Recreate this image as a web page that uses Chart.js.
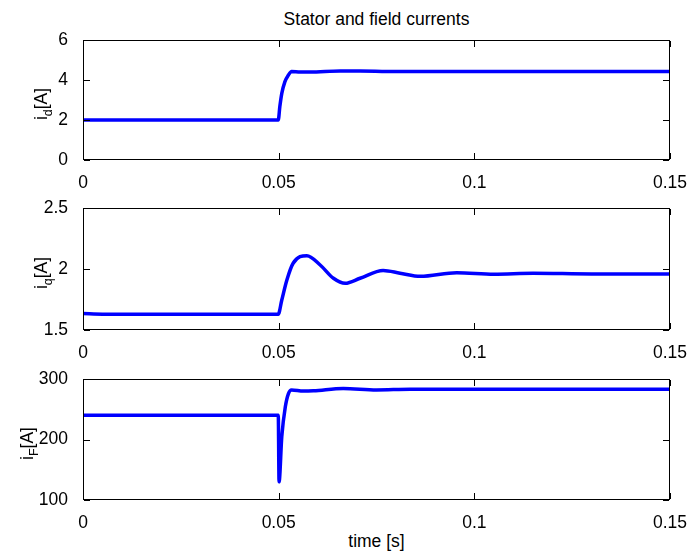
<!DOCTYPE html>
<html>
<head>
<meta charset="utf-8">
<title>Stator and field currents</title>
<script src="https://cdn.jsdelivr.net/npm/chart.js@4.4.0/dist/chart.umd.min.js"></script>
<style>
  body { margin: 0; background: #fff; }
  #fig { position: relative; width: 691px; height: 553px; background: #fff; font-family: "Liberation Sans", Arial, sans-serif; }
  #fig canvas { position: absolute; left: 0; }
  .label { position: absolute; left: 83px; width: 587px; text-align: center; font-size: 17.5px; line-height: 20px; color: #000; }
</style>
</head>
<body>
<div id="fig">
  <div class="label" style="top:9px">Stator and field currents</div>
  <canvas id="chartId" width="691" height="160" style="top:30px"></canvas>
  <canvas id="chartIq" width="691" height="162" style="top:198px"></canvas>
  <canvas id="chartIf" width="691" height="161" style="top:369px"></canvas>
  <div class="label" style="top:531px">time [s]</div>
</div>
<script>
const timeTicks = [0, 0.05, 0.1, 0.15];

// stator d-axis current
const idTime = [0, 0.02, 0.0499, 0.0503, 0.0508, 0.0516, 0.0525, 0.0533, 0.0555, 0.058, 0.0657, 0.0708, 0.0776, 0.09, 0.11, 0.13, 0.15];
const idValues = [2.0, 2.0, 2.0, 2.67, 3.33, 3.92, 4.25, 4.43, 4.40, 4.40, 4.45, 4.45, 4.43, 4.42, 4.42, 4.42, 4.42];
const idTicks = [0, 2, 4, 6];

// stator q-axis current
const iqTime = [0, 0.005, 0.0499, 0.0508, 0.0521, 0.0537, 0.0572, 0.0606, 0.064, 0.067, 0.0708, 0.0767, 0.081, 0.0862, 0.0955, 0.105, 0.115, 0.13, 0.15];
const iqValues = [1.635, 1.63, 1.63, 1.746, 1.91, 2.047, 2.109, 2.033, 1.924, 1.883, 1.924, 1.988, 1.966, 1.94, 1.97, 1.957, 1.965, 1.96, 1.96];
const iqTicks = [1.5, 2, 2.5];

// field current
const ifTime = [0, 0.0499, 0.0501, 0.0508, 0.0517, 0.0525, 0.0533, 0.0563, 0.0589, 0.0665, 0.075, 0.0836, 0.095, 0.12, 0.15];
const ifValues = [240, 240, 130, 205, 254, 276, 282, 280, 280.5, 284.5, 282, 283, 283, 283, 283];
const ifTicks = [100, 200, 300];

const FONT_FAMILY = '"Liberation Sans", Arial, sans-serif';
const FONT_SIZE = 17.5;

// MATLAB-style box with inward tick marks and a y label with subscript
const axesBox = {
    id: 'axesBox',
    afterDraw(chart, args, opts) {
        const { ctx, chartArea: a, scales } = chart;
        const left = Math.round(a.left);
        const right = Math.round(a.right) - 1;
        const top = Math.round(a.top);
        const bottom = Math.round(a.bottom) - 1;
        const len = 6;

        ctx.save();
        ctx.fillStyle = '#000';
        // box edges
        ctx.fillRect(left, top, right - left + 1, 1);
        ctx.fillRect(left, bottom, right - left + 1, 1);
        ctx.fillRect(left, top, 1, bottom - top + 1);
        ctx.fillRect(right, top, 1, bottom - top + 1);
        // inward ticks on all four sides
        scales.x.ticks.forEach(t => {
            const px = Math.round(scales.x.getPixelForValue(t.value));
            ctx.fillRect(px, bottom - len, 1, len);
            ctx.fillRect(px, top + 1, 1, len);
        });
        scales.y.ticks.forEach(t => {
            const py = Math.round(scales.y.getPixelForValue(t.value));
            ctx.fillRect(left + 1, py, len, 1);
            ctx.fillRect(right - len, py, len, 1);
        });

        // rotated label: i, subscript, [A]
        const mainFont = FONT_SIZE + 'px ' + FONT_FAMILY;
        const subFont = '12.5px ' + FONT_FAMILY;
        ctx.font = mainFont;
        const wI = ctx.measureText('i').width;
        const wUnit = ctx.measureText('[A]').width;
        ctx.font = subFont;
        const wSub = ctx.measureText(opts.sub).width;
        const total = wI + wSub + wUnit;

        ctx.translate(opts.labelX, (a.top + a.bottom) / 2 + 4);
        ctx.rotate(-Math.PI / 2);
        ctx.textBaseline = 'alphabetic';
        ctx.textAlign = 'left';
        let x = -total / 2;
        ctx.font = mainFont;
        ctx.fillText('i', x, 0);
        x += wI;
        ctx.font = subFont;
        ctx.fillText(opts.sub, x, 5);
        x += wSub;
        ctx.font = mainFont;
        ctx.fillText('[A]', x, 0);
        ctx.restore();
    }
};

// drop the label-overflow padding so the plot box sits where layout.padding puts it
const noOverflow = scale => {
    scale.paddingTop = 0;
    scale.paddingBottom = 0;
    scale.paddingLeft = 0;
    scale.paddingRight = 0;
};

function makeChart(canvasId, times, values, yMin, yMax, yTicks, sub, labelX) {
    const ctx = document.getElementById(canvasId);
    return new Chart(ctx, {
        type: 'line',
        data: {
            datasets: [{
                data: times.map((t, i) => ({ x: t, y: values[i] })),
                borderColor: '#0000ff',
                borderWidth: 3.5,
                pointRadius: 0,
                cubicInterpolationMode: 'monotone',
                borderJoinStyle: 'round',
                fill: false
            }]
        },
        options: {
            responsive: false,
            devicePixelRatio: 1,
            animation: false,
            layout: { padding: { top: 10, right: 21, left: 0, bottom: 0 } },
            plugins: {
                legend: { display: false },
                tooltip: { enabled: false },
                axesBox: { sub: sub, labelX: labelX }
            },
            scales: {
                x: {
                    type: 'linear',
                    min: 0,
                    max: 0.15,
                    grid: { display: false },
                    border: { display: false },
                    afterBuildTicks: scale => { scale.ticks = timeTicks.map(value => ({ value })); },
                    afterFit: scale => { scale.height = 30; noOverflow(scale); },
                    ticks: {
                        color: '#000',
                        padding: 5,
                        maxRotation: 0,
                        autoSkip: false,
                        font: { family: FONT_FAMILY, size: FONT_SIZE },
                        callback: v => String(v)
                    }
                },
                y: {
                    type: 'linear',
                    min: yMin,
                    max: yMax,
                    grid: { display: false },
                    border: { display: false },
                    afterBuildTicks: scale => { scale.ticks = yTicks.map(value => ({ value })); },
                    afterFit: scale => { scale.width = 83; noOverflow(scale); },
                    ticks: {
                        color: '#000',
                        padding: 7,
                        autoSkip: false,
                        font: { family: FONT_FAMILY, size: FONT_SIZE },
                        callback: v => String(v)
                    }
                }
            }
        },
        plugins: [axesBox]
    });
}

makeChart('chartId', idTime, idValues, 0, 6, idTicks, 'd', 47);
makeChart('chartIq', iqTime, iqValues, 1.5, 2.5, iqTicks, 'q', 47);
makeChart('chartIf', ifTime, ifValues, 100, 300, ifTicks, 'F', 33);
</script>
</body>
</html>
